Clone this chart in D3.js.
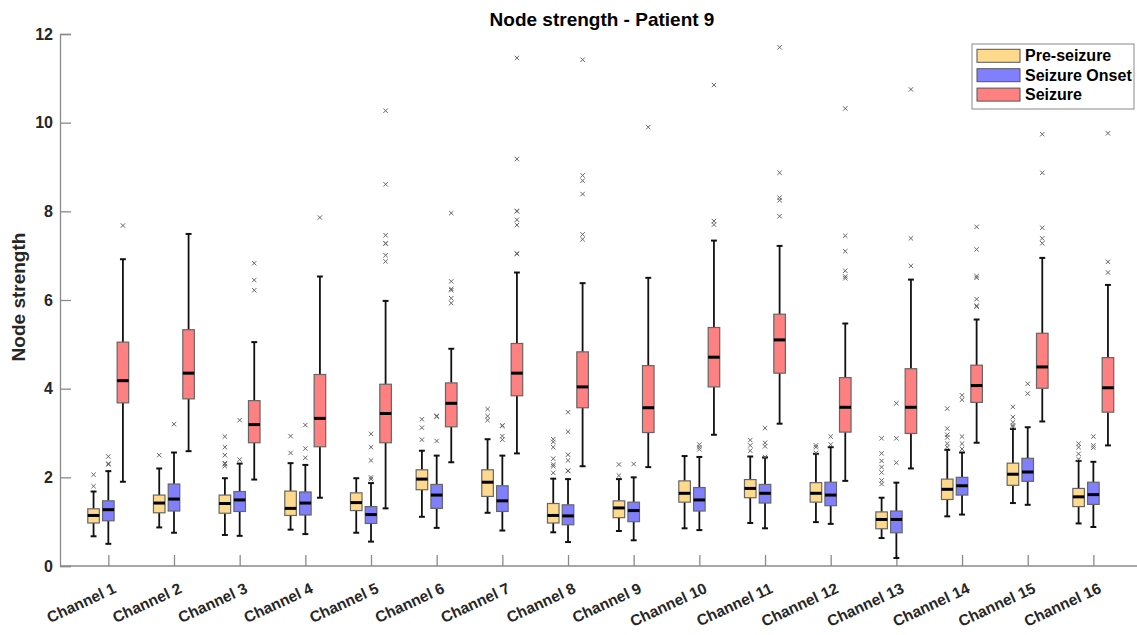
<!DOCTYPE html>
<html>
<head>
<meta charset="utf-8">
<script src="https://cdn.jsdelivr.net/npm/d3@7"></script>
<style>
  html, body { margin: 0; padding: 0; background: #fff; }
  svg { display: block; font-family: "Liberation Sans", Arial, sans-serif; }
</style>
</head>
<body>
<svg id="chart" width="1137" height="635"></svg>
<script>
// ---------------- data ----------------
const channels = ["Channel 1","Channel 2","Channel 3","Channel 4","Channel 5","Channel 6","Channel 7","Channel 8",
  "Channel 9","Channel 10","Channel 11","Channel 12","Channel 13","Channel 14","Channel 15","Channel 16"];
const groups = ["Pre-seizure", "Seizure Onset", "Seizure"];
const groupColors = ["#ffd98c", "#8080ff", "#ff8080"];
const yTicks = [0, 2, 4, 6, 8, 10, 12];

// [whisker low, Q1, median, Q3, whisker high]
const preSeizure = [
  [0.67,0.97,1.14,1.29,1.68],[0.87,1.20,1.42,1.60,2.20],[0.70,1.19,1.41,1.60,1.98],[0.82,1.14,1.30,1.69,2.32],
  [0.75,1.25,1.43,1.65,1.98],[1.11,1.72,1.96,2.17,2.60],[1.20,1.57,1.89,2.17,2.86],[0.76,0.97,1.14,1.41,1.97],
  [0.79,1.09,1.31,1.47,1.96],[0.85,1.44,1.64,1.92,2.48],[0.97,1.54,1.75,1.95,2.47],[0.99,1.44,1.64,1.88,2.53],
  [0.63,0.84,1.05,1.22,1.54],[1.12,1.50,1.73,1.96,2.62],[1.42,1.82,2.07,2.32,3.09],[0.96,1.34,1.56,1.75,2.37]
];
const seizureOnset = [
  [0.50,1.02,1.27,1.47,2.14],[0.75,1.24,1.51,1.85,2.56],[0.68,1.23,1.49,1.68,2.31],[0.72,1.15,1.42,1.67,2.28],
  [0.55,0.96,1.16,1.34,1.87],[0.86,1.30,1.60,1.84,2.49],[0.80,1.23,1.47,1.81,2.49],[0.54,0.93,1.13,1.38,1.96],
  [0.58,1.00,1.25,1.44,2.00],[0.81,1.24,1.49,1.77,2.46],[0.85,1.42,1.64,1.84,2.45],[0.95,1.36,1.60,1.89,2.68],
  [0.18,0.75,1.05,1.24,1.88],[1.16,1.60,1.81,2.00,2.56],[1.38,1.91,2.12,2.43,3.13],[0.88,1.39,1.61,1.89,2.35]
];
const seizure = [
  [1.90,3.68,4.18,5.05,6.92],[2.59,3.77,4.35,5.33,7.49],[1.95,2.78,3.19,3.73,5.05],[1.54,2.69,3.33,4.32,6.53],
  [1.30,2.78,3.44,4.10,5.98],[2.34,3.14,3.67,4.13,4.90],[2.54,3.84,4.35,5.02,6.62],[2.25,3.57,4.04,4.83,6.38],
  [2.23,3.01,3.57,4.52,6.50],[2.96,4.04,4.71,5.38,7.34],[3.21,4.35,5.10,5.68,7.22],[1.92,3.02,3.58,4.25,5.47],
  [2.20,2.99,3.58,4.45,6.46],[2.78,3.69,4.07,4.53,5.56],[3.26,4.01,4.49,5.25,6.95],[2.72,3.47,4.02,4.70,6.34]
];

const preSeizureOutliers = [
  [2.06,1.80],[2.50],[2.92,2.68,2.50,2.32,2.30,2.25],[2.93,2.55],
  [],[3.31,3.12,2.85],[3.54,3.38,3.29],[2.86,2.80,2.68,2.42,2.29,2.25,2.10],
  [2.29,2.04],[],[2.84,2.72,2.60],[2.72,2.68,2.55],
  [2.88,2.54,2.37,2.23,2.11,1.93,1.85],[3.55,3.10,2.96,2.90,2.76,2.68],[3.59,3.36,3.24,3.17,3.14],[2.76,2.68,2.53,2.41]
];
const seizureOnsetOutliers = [
  [2.47,2.31,2.29],[3.20],[3.29,2.40],[3.18,2.65,2.44],
  [2.98,2.68,2.38,2.00,1.96],[3.38,3.38,3.37,2.82],[3.17,3.16,2.93,2.85],[3.47,3.03,2.51,2.38,2.15,2.14],
  [2.30],[2.74,2.68,2.63],[3.11,2.78,2.70,2.46],[2.92,2.74],
  [3.67,2.88,2.33],[3.85,3.75,2.92,2.76,2.64],[4.11,3.89],[2.92,2.72,2.67]
];
const seizureOutliers = [
  [7.68],[],[6.83,6.45,6.22],[7.86],
  [10.27,8.61,7.46,7.28,7.27,7.01,6.87],[7.96,6.42,6.25,6.22,6.04,5.93],[11.46,9.18,8.01,8.00,7.81,7.69,7.05,7.04],[11.42,8.81,8.69,8.39,7.48,7.37],
  [9.90],[10.85,7.78,7.70],[11.70,8.87,8.31,8.25,7.89],[10.32,7.45,7.10,6.66,6.53,6.49],
  [10.75,7.39,6.77],[7.65,7.14,6.54,6.50,6.02,5.87,5.85],[9.74,8.87,7.63,7.39,7.28],[9.76,6.86,6.62]
];

const title = "Node strength - Patient 9";
const yLabel = "Node strength";

// ---------------- layout ----------------
const svg = d3.select("#chart");
const mLeft = 60, mRight = 1140, mTop = 34, mBottom = 566;

const x = d3.scaleLinear().domain([0.264, 16.71]).range([mLeft, mRight]);
const y = d3.scaleLinear().domain([0, 12]).range([mBottom, mTop]);

const offsets = [-0.225, 0, 0.222];
const boxW = 0.176; // in channel units
const capW = 0.09;

const statsByGroup = [preSeizure, seizureOnset, seizure];
const outByGroup = [preSeizureOutliers, seizureOnsetOutliers, seizureOutliers];

const axisColor = "#8a8a8a";
const textColor = "#262626";
const fontFam = "'Liberation Sans', Arial, sans-serif";

// ---------------- axes ----------------
const yAxis = d3.axisLeft(y).tickValues(yTicks).tickSize(-11).tickPadding(7).tickFormat(d3.format("d"));
const gy = svg.append("g").attr("transform", `translate(${mLeft},0)`).call(yAxis);
gy.select(".domain").attr("stroke", axisColor).attr("stroke-width", 1.3);
gy.selectAll(".tick line").attr("stroke", axisColor).attr("stroke-width", 1.3);
gy.selectAll(".tick text").attr("fill", textColor).attr("font-size", 16).attr("font-weight", "bold")
  .attr("font-family", fontFam);

const xAxis = d3.axisBottom(x).tickValues(d3.range(1, channels.length + 1)).tickSize(-11)
  .tickFormat(d => channels[d - 1]);
const gx = svg.append("g").attr("transform", `translate(0,${mBottom})`).call(xAxis);
gx.select(".domain").remove();
gx.append("line").attr("x1", mLeft).attr("x2", 1137).attr("y1", 0).attr("y2", 0)
  .attr("stroke", axisColor).attr("stroke-width", 1.3);
gx.selectAll(".tick line").attr("stroke", axisColor).attr("stroke-width", 1.3);
gx.selectAll(".tick text")
  .attr("fill", textColor).attr("font-size", 15.5).attr("font-weight", "bold")
  .attr("font-family", fontFam)
  .attr("text-anchor", "end").attr("dy", null).attr("y", 0)
  .attr("dominant-baseline", "central")
  .attr("transform", "translate(6,21) rotate(-25)");

// ---------------- boxes ----------------
const plot = svg.append("g");
statsByGroup.forEach((stats, gi) => {
  const g = plot.append("g");
  stats.forEach((s, ci) => {
    const cx = ci + 1 + offsets[gi];
    const [lo, q1, med, q3, hi] = s;
    g.append("line").attr("x1", x(cx)).attr("x2", x(cx)).attr("y1", y(q3)).attr("y2", y(hi))
      .attr("stroke", "#111").attr("stroke-width", 1.8);
    g.append("line").attr("x1", x(cx)).attr("x2", x(cx)).attr("y1", y(q1)).attr("y2", y(lo))
      .attr("stroke", "#111").attr("stroke-width", 1.8);
    [lo, hi].forEach(v => {
      g.append("line").attr("x1", x(cx - capW / 2)).attr("x2", x(cx + capW / 2)).attr("y1", y(v)).attr("y2", y(v))
        .attr("stroke", "#111").attr("stroke-width", 2);
    });
    g.append("rect").attr("x", x(cx - boxW / 2)).attr("width", x(cx + boxW / 2) - x(cx - boxW / 2))
      .attr("y", y(q3)).attr("height", y(q1) - y(q3))
      .attr("fill", groupColors[gi]).attr("stroke", "#666").attr("stroke-width", 1.2);
    g.append("line").attr("x1", x(cx - boxW / 2)).attr("x2", x(cx + boxW / 2)).attr("y1", y(med)).attr("y2", y(med))
      .attr("stroke", "#000").attr("stroke-width", 3);
    outByGroup[gi][ci].forEach(v => {
      const px = x(cx), py = y(v), r = 2.2;
      g.append("path").attr("d", `M${px - r},${py - r}L${px + r},${py + r}M${px - r},${py + r}L${px + r},${py - r}`)
        .attr("stroke", "#666").attr("stroke-width", 1).attr("fill", "none");
    });
  });
});

// ---------------- title & labels ----------------
svg.append("text").attr("x", 602).attr("y", 26).attr("text-anchor", "middle")
  .attr("font-size", 19).attr("font-weight", "bold").attr("fill", "#000").text(title);

svg.append("text").attr("transform", "translate(25,297) rotate(-90)").attr("text-anchor", "middle")
  .attr("font-size", 19).attr("font-weight", "bold").attr("fill", textColor).text(yLabel);

// ---------------- legend ----------------
const lg = svg.append("g");
lg.append("rect").attr("x", 972).attr("y", 44).attr("width", 162).attr("height", 65)
  .attr("fill", "#fff").attr("stroke", "#8a8a8a").attr("stroke-width", 1);
groups.forEach((name, i) => {
  const cy = 55.8 + i * 19.4;
  lg.append("rect").attr("x", 977).attr("y", cy - 6.5).attr("width", 43).attr("height", 13)
    .attr("fill", groupColors[i]).attr("stroke", "#555").attr("stroke-width", 1);
  lg.append("text").attr("x", 1025).attr("y", cy).attr("dominant-baseline", "central")
    .attr("font-size", 16).attr("font-weight", "bold").attr("fill", "#000").text(name);
});
</script>
</body>
</html>
